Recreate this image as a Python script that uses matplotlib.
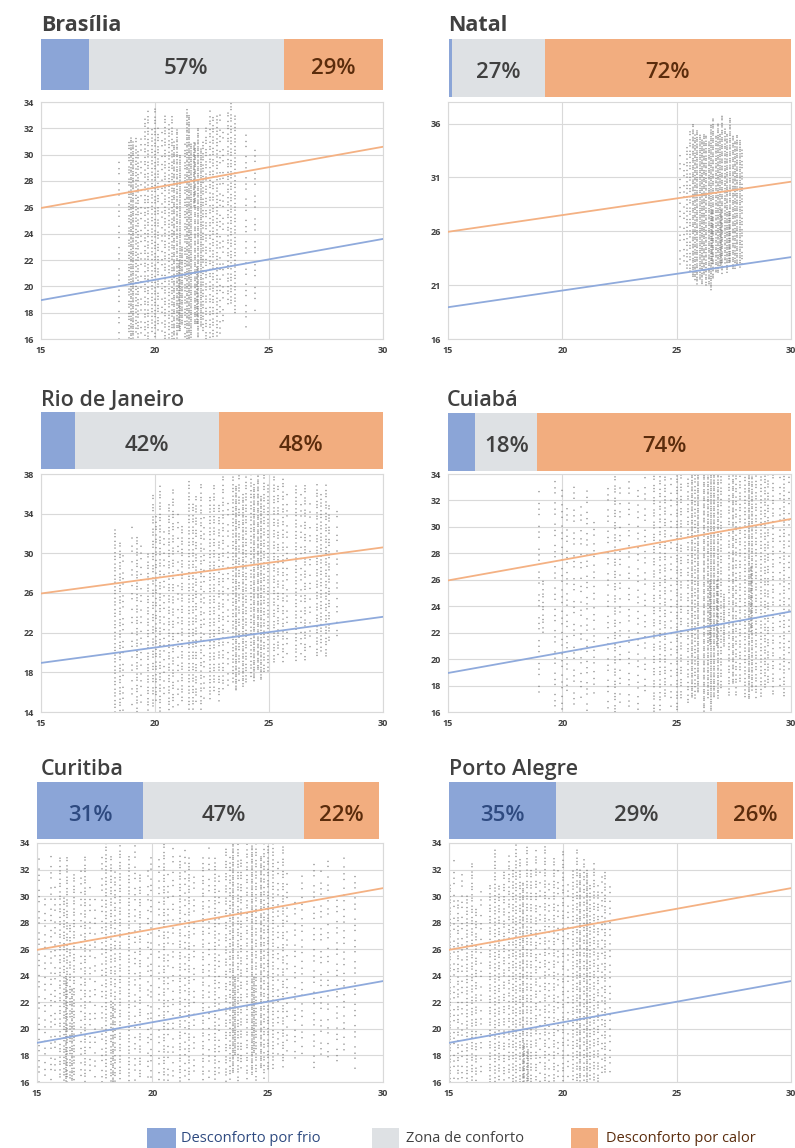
import matplotlib
matplotlib.use('Agg')
import matplotlib.pyplot as plt
from matplotlib.patches import Rectangle

# ---- data ----
cities = ['Brasília', 'Natal', 'Rio de Janeiro', 'Cuiabá', 'Curitiba', 'Porto Alegre']

# share of hours: cold discomfort / comfort zone / heat discomfort (bar widths, %)
frio = [14, 1, 10, 8, 31, 31]
conforto = [57, 27, 42, 18, 47, 47]
calor = [29, 72, 48, 74, 22, 22]
# labels printed in the bars ('' = no label)
frio_lbl = ['', '', '', '', '31%', '35%']
conforto_lbl = ['57%', '27%', '42%', '18%', '47%', '29%']
calor_lbl = ['29%', '72%', '48%', '74%', '22%', '26%']

# comfort band limits (outdoor mean temp -> operative temp)
lim_x = [15, 30]
lim_sup = [25.95, 30.6]
lim_inf = [18.95, 23.6]

y_ranges = [(16, 34), (16, 38), (14, 38), (16, 34), (16, 34), (16, 34)]
y_ticks = [list(range(16, 35, 2)), [16, 21, 26, 31, 36], list(range(14, 39, 4)),
           list(range(16, 35, 2)), list(range(16, 35, 2)), list(range(16, 35, 2))]
x_ticks = [15, 20, 25, 30]

# hourly indoor temperatures read as vertical streaks: x, lowest y, highest y, density (1-3)
bsb_x = [18.4, 18.85, 18.95, 19.05, 19.15, 19.25, 19.4, 19.55, 19.7, 19.85, 20.0, 20.15,
         20.3, 20.45, 20.6, 20.75, 20.85, 20.95, 21.05, 21.1, 21.2, 21.3, 21.4, 21.5,
         21.6, 21.7, 21.75, 21.85, 21.9, 22.0, 22.1, 22.25, 22.4, 22.55, 22.7, 22.85,
         23.0, 23.2, 23.35, 23.5, 24.0, 24.4]
bsb_lo = [16, 16, 16, 16, 16.5, 16, 16, 16, 16, 16.5, 16, 16.5,
          16.5, 16, 16, 16, 16, 16, 16.5, 16.5, 17, 16, 16, 16,
          16, 26, 17, 17, 16, 17, 16.5, 16, 16, 16, 16, 16,
          17, 18.5, 18.5, 18, 16.5, 18]
bsb_hi = [30, 31, 31.5, 31, 31.5, 30.5, 32, 33, 33.5, 32, 33.5, 32,
          32, 33, 32.5, 33, 31, 32, 22, 30, 23, 31, 33.5, 33,
          31, 31, 31, 21.5, 32, 30.5, 31, 32, 33.5, 33, 33, 33.5,
          32, 33.5, 34, 33, 32, 31]
bsb_d = [1, 2, 3, 3, 2, 2, 1, 2, 2, 2, 2, 2,
         1, 2, 2, 2, 3, 3, 3, 3, 3, 2, 3, 3,
         3, 3, 3, 3, 3, 3, 2, 2, 2, 2, 2, 1,
         1, 2, 2, 2, 1, 1]

nat_x = [25.15, 25.3, 25.45, 25.6, 25.7, 25.8, 25.9, 26.0, 26.1, 26.2, 26.3, 26.4, 26.5,
         26.55, 26.6, 26.7, 26.8, 26.9, 26.95, 27.0, 27.1, 27.2, 27.3, 27.35, 27.45, 27.55,
         27.65, 27.75, 27.85]
nat_lo = [23, 22.5, 22.5, 22, 21.5, 21.5, 21, 21.5, 21, 22, 21, 21, 20.5,
          23, 21.5, 22, 22, 22.5, 23, 22, 23, 22, 23, 23, 22.5, 22.5,
          23, 22.5, 23]
nat_hi = [33.5, 33, 34, 35.5, 36, 35, 35.5, 35, 34.5, 35, 35, 34.5, 36,
          28, 36.5, 35, 36, 35, 28, 37, 35.5, 35, 28, 36.5, 35, 34.5,
          35, 34.5, 34]
nat_d = [1, 1, 2, 2, 3, 3, 3, 3, 3, 3, 3, 3, 3,
         3, 3, 3, 3, 3, 3, 3, 3, 3, 3, 3, 3, 3,
         3, 3, 2]

rio_x = [18.25, 18.45, 18.6, 19.0, 19.2, 19.4, 19.7, 19.9, 20.05, 20.2, 20.4, 20.6, 20.8,
         21.0, 21.2, 21.5, 21.65, 21.8, 22.0, 22.15, 22.4, 22.6, 22.8, 23.0, 23.2, 23.4,
         23.55, 23.7, 23.85, 24.0, 24.2, 24.35, 24.5, 24.65, 24.8, 24.95, 25.2, 25.4, 25.6,
         25.8, 26.2, 26.4, 26.6, 26.8, 27.1, 27.3, 27.5, 27.65, 28.0]
rio_lo = [14, 14, 14, 14, 14, 14.5, 14, 14, 15, 14, 15, 14, 14.5,
          14, 15, 14, 14, 15, 14, 15, 15, 16, 15, 16, 16.5, 17,
          16, 17, 16.5, 17, 17.5, 17, 18, 17, 18, 18, 19, 19.5, 19,
          19.5, 19, 19.5, 19, 20, 19.5, 20, 19.5, 21, 21]
rio_hi = [32.5, 31, 30, 33, 32, 31, 30, 36, 34, 37, 33, 35, 36.5,
          34, 33, 37.5, 35, 36, 37, 34, 36, 37, 35, 38, 36, 38,
          37, 38, 36, 38, 38, 37, 38, 36, 38, 37, 38, 37, 38,
          36, 37, 36, 37, 36, 37, 36, 37, 35, 35]
rio_d = [2, 2, 1, 1, 2, 1, 2, 2, 2, 2, 1, 2, 2,
         1, 2, 2, 2, 2, 2, 1, 2, 2, 2, 2, 1, 2,
         3, 2, 3, 2, 2, 3, 3, 3, 2, 2, 2, 2, 2,
         1, 2, 1, 2, 1, 2, 2, 2, 2, 1]

cui_x = [19.0, 19.15, 19.7, 20.0, 20.2, 20.5, 20.8, 21.1, 21.4, 22.0, 22.3, 22.5, 22.9,
         23.3, 23.6, 24.0, 24.25, 24.5, 24.75, 25.0, 25.2, 25.5, 25.65, 25.8, 25.95, 26.2,
         26.35, 26.45, 26.5, 26.65, 26.75, 26.8, 26.95, 27.05, 27.3, 27.45, 27.6, 27.75,
         28.0, 28.15, 28.25, 28.3, 28.45, 28.7, 28.85, 29.0, 29.2, 29.5, 29.7, 29.9]
cui_lo = [17.5, 22, 16, 16, 17, 16, 17, 16, 17, 16, 16, 16.5, 16,
          16, 17, 16, 16, 17, 16, 16, 17, 16.5, 17, 17, 17.5, 16,
          17, 21, 16, 17, 21, 17, 17.5, 21, 17, 18, 17, 18,
          17, 17, 22, 17.5, 17, 17, 17.5, 18, 17, 18, 17, 19]
cui_hi = [33, 26, 33.5, 33, 32, 33, 32, 33, 31, 33, 34, 33, 34,
          33, 34, 34, 34, 34, 34, 34, 34, 34, 34, 34, 34, 34,
          34, 26, 34, 34, 26, 34, 34, 25, 34, 34, 34, 34,
          34, 34, 27, 34, 34, 34, 34, 34, 34, 34, 34, 34]
cui_d = [1, 2, 1, 1, 1, 1, 1, 1, 1, 1, 2, 1, 1,
         1, 1, 2, 2, 2, 1, 2, 2, 2, 3, 2, 3, 3,
         3, 3, 3, 3, 3, 3, 2, 3, 2, 3, 2, 2,
         2, 3, 3, 3, 2, 2, 2, 2, 2, 1, 2, 1]

cwb_x = [15.1, 15.35, 15.6, 15.8, 16.0, 16.15, 16.25, 16.3, 16.45, 16.5, 16.6, 16.9, 17.1,
         17.3, 17.5, 17.8, 18.0, 18.2, 18.3, 18.4, 18.6, 19.0, 19.25, 19.45, 19.8, 19.95,
         20.3, 20.5, 20.7, 20.9, 21.2, 21.4, 21.6, 21.8, 22.2, 22.45, 22.7, 22.9, 23.2,
         23.35, 23.5, 23.6, 23.7, 23.85, 24.1, 24.3, 24.4, 24.5, 24.7, 24.85, 25.0, 25.25,
         25.45, 25.65, 25.85, 26.2, 26.5, 27.0, 27.3, 27.6, 28.0, 28.3, 28.8]
cwb_lo = [16, 16, 16, 16, 16, 16, 16, 16, 16, 16, 16, 16, 16,
          16, 16, 16, 16, 16, 16, 16, 16, 16, 16, 16, 16, 16,
          16, 16, 16, 16, 16, 16, 16, 16, 16, 16, 16, 16.5, 16,
          16, 16.5, 18, 16, 17, 16, 16.5, 18, 16, 17, 16, 17, 17,
          18, 17, 18, 17.5, 18, 17, 18, 17.5, 17, 18, 17]
cwb_hi = [33, 30, 33, 31, 33, 30, 24, 33, 28, 23, 32, 32, 33,
          31, 30, 33, 34, 33, 22, 32, 34, 33, 34, 32, 32, 33,
          33, 34, 32, 34, 33, 34, 33, 32, 33, 34, 33, 32, 34,
          33, 34, 24, 34, 33, 34, 34, 24, 34, 33, 34, 34, 34,
          33, 34, 32, 30, 32, 33, 32, 33, 30, 33, 32]
cwb_d = [1, 1, 1, 1, 2, 2, 3, 2, 2, 3, 2, 1, 2,
         1, 1, 1, 2, 2, 3, 2, 2, 2, 1, 2, 1, 1,
         1, 2, 1, 1, 2, 1, 2, 1, 2, 1, 2, 1, 2,
         2, 3, 3, 2, 2, 2, 3, 3, 2, 3, 2, 2, 2,
         1, 2, 1, 1, 1, 1, 1, 1, 1, 1, 1]

poa_x = [15.05, 15.2, 15.4, 15.55, 15.8, 16.0, 16.2, 16.4, 16.8, 17.0, 17.2, 17.4, 17.65,
         17.8, 17.95, 18.1, 18.25, 18.3, 18.4, 18.45, 18.6, 18.8, 19.0, 19.2, 19.4, 19.6,
         19.8, 20.0, 20.2, 20.45, 20.6, 20.75, 20.9, 21.05, 21.2, 21.35, 21.55, 21.7, 21.85,
         22.05]
poa_lo = [16, 16, 16, 16, 16, 16, 16, 16, 16, 16, 16, 16, 16,
          16, 16, 16, 16, 16, 16, 16, 16, 16, 16, 16, 16, 16,
          16, 16, 16, 16, 16, 16, 16, 16, 16, 16, 16, 16, 16.5,
          16.5]
poa_hi = [31, 33, 30, 32, 30, 32.5, 29, 31, 31, 33.5, 31, 32, 33,
          32, 34, 33, 31, 19, 34, 18.5, 32, 33.5, 32, 34, 31, 33,
          32, 33.5, 31, 32, 33.5, 32, 33, 32, 31, 32.5, 31, 32, 32,
          31]
poa_d = [2, 1, 2, 1, 2, 2, 2, 1, 2, 2, 2, 2, 2,
         2, 2, 2, 3, 3, 2, 3, 2, 2, 1, 2, 1, 2,
         1, 2, 1, 2, 2, 3, 2, 3, 2, 2, 2, 1, 2,
         1]

streaks = [(bsb_x, bsb_lo, bsb_hi, bsb_d), (nat_x, nat_lo, nat_hi, nat_d),
           (rio_x, rio_lo, rio_hi, rio_d), (cui_x, cui_lo, cui_hi, cui_d),
           (cwb_x, cwb_lo, cwb_hi, cwb_d), (poa_x, poa_lo, poa_hi, poa_d)]

# ---- style ----
C_FRIO = '#8ba5d7'
C_CONF = '#dee1e4'
C_CALOR = '#f2ad7f'
T_FRIO = '#2e4a80'
T_CONF = '#404040'
T_CALOR = '#5b2c0c'
L_SUP = '#f4b183'
L_INF = '#8faadc'
GRID = '#d9d9d9'
DOT = '#6c6c6c'
GAPS = {1: 4.5, 2: 2.4, 3: 1.4}
# irregular dot spacing so neighbouring streaks don't line up
PATTERNS = [(1.0, 1.6, 0.8), (0.8, 1.3, 1.7), (1.4, 0.9, 1.1), (0.9, 1.9, 0.85), (1.6, 0.8, 1.0)]

plt.rcParams['font.family'] = ['Open Sans', 'DejaVu Sans']
plt.rcParams['lines.scale_dashes'] = False

W, H = 795, 1148
fig = plt.figure(figsize=(W / 100, H / 100), dpi=100)
fig.patch.set_facecolor('white')


def px_axes(l, t, r, b):
    return fig.add_axes([l / W, 1 - b / H, (r - l) / W, (b - t) / H])


# panel layout in pixels: title (x, baseline), bar box, scatter box
layout = [
    ((41, 31), (41, 39, 383, 90), (41, 102, 383, 339)),
    ((448, 31), (449, 39, 791, 97), (448, 102, 791, 339)),
    ((41, 406), (41, 412, 383, 469), (41, 474, 383, 712)),
    ((447, 406), (448, 413, 791, 471), (448, 474, 791, 712)),
    ((41, 775), (37, 782, 379, 839), (37, 843, 383, 1082)),
    ((449, 775), (449, 782, 793, 839), (449, 843, 791, 1082)),
]
title_weight = ['bold', 'bold', 'semibold', 'semibold', 'semibold', 'semibold']

for i, city in enumerate(cities):
    (tx, ty), bbox, sbox = layout[i]

    fig.text(tx / W, 1 - ty / H, city, fontsize=15.5, color='#404040',
             weight=title_weight[i], ha='left', va='baseline')

    # stacked bar
    axb = px_axes(*bbox)
    vals = [frio[i], conforto[i], calor[i]]
    lbls = [frio_lbl[i], conforto_lbl[i], calor_lbl[i]]
    cols = [C_FRIO, C_CONF, C_CALOR]
    tcols = [T_FRIO, T_CONF, T_CALOR]
    left = 0
    for v, lb, c, tc in zip(vals, lbls, cols, tcols):
        axb.barh(0, v, left=left, height=1, color=c, linewidth=0)
        if lb:
            axb.text(left + v / 2, -0.08, lb, ha='center', va='center',
                     fontsize=16, color=tc, weight='semibold')
        left += v
    axb.set_xlim(0, sum(vals))
    axb.set_ylim(-0.5, 0.5)
    axb.axis('off')

    # scatter
    ax = px_axes(*sbox)
    xs, los, his, ds = streaks[i]
    for j, (x, lo, hi, d) in enumerate(zip(xs, los, his, ds)):
        g = GAPS[d]
        p = PATTERNS[(j * 3 + i) % len(PATTERNS)]
        dash = (0.01, g * p[0], 0.01, g * p[1], 0.01, g * p[2])
        off = (j * 1.37) % (g * 3)
        ax.vlines(x, lo, hi, colors=DOT, linewidth=1.15, alpha=0.8,
                  linestyles=[(off, dash)], capstyle='round', zorder=2)
    ax.plot(lim_x, lim_sup, color=L_SUP, lw=1.3, zorder=3)
    ax.plot(lim_x, lim_inf, color=L_INF, lw=1.3, zorder=3)

    ax.set_xlim(15, 30)
    ax.set_ylim(*y_ranges[i])
    ax.set_xticks(x_ticks)
    ax.set_yticks(y_ticks[i])
    ax.grid(True, color=GRID, lw=0.8, zorder=0)
    ax.set_axisbelow(True)
    for s in ax.spines.values():
        s.set_color(GRID)
        s.set_linewidth(0.8)
    ax.tick_params(length=0, labelsize=6.5, labelcolor='#404040', pad=5)
    for t in ax.get_xticklabels() + ax.get_yticklabels():
        t.set_fontweight('bold')

# legend
leg = [(147, 176, C_FRIO, 'Desconforto por frio', T_FRIO, 181),
       (372, 399, C_CONF, 'Zona de conforto', T_CONF, 406),
       (571, 598, C_CALOR, 'Desconforto por calor', T_CALOR, 606)]
for x0, x1, c, txt, tc, tx in leg:
    fig.add_artist(Rectangle((x0 / W, 0), (x1 - x0) / W, 20 / H,
                             transform=fig.transFigure, color=c, lw=0))
    fig.text(tx / W, 1 - 1139 / H, txt, fontsize=10.5, color=tc, ha='left', va='center')

fig.savefig('out.png', dpi=100, facecolor='white')
